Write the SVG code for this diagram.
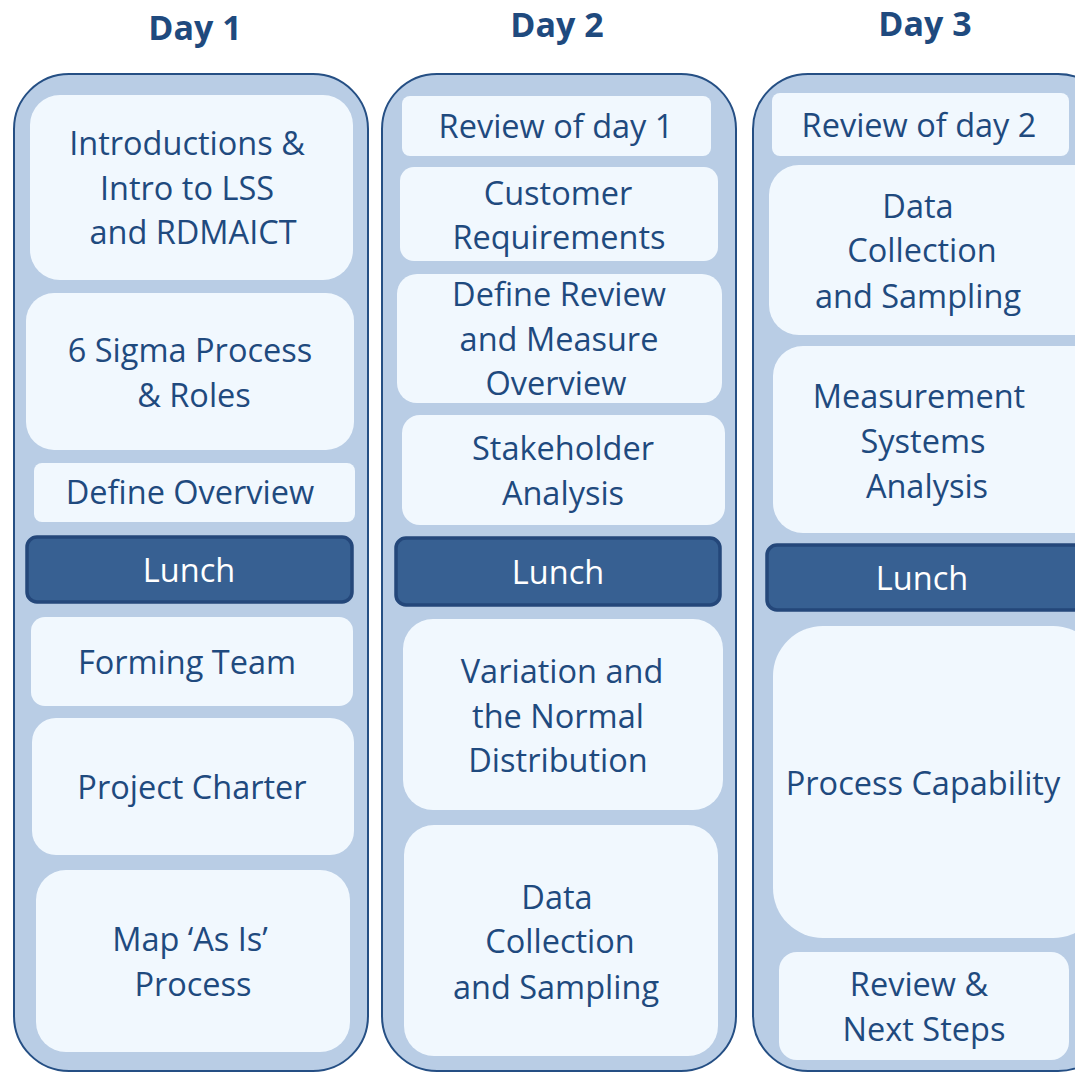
<svg xmlns="http://www.w3.org/2000/svg" width="1075" height="1073" viewBox="0 0 1075 1073">
<style>
.col{fill:#B9CDE5;stroke:#254F84;stroke-width:2}
.box{fill:#F1F8FE}
.lunch{fill:#376092;stroke:#24477A;stroke-width:3.5}
.t{font-family:"Open Sans","Noto Sans",sans-serif;font-size:32.5px;fill:#1F4A7E;text-anchor:middle}
.lt{font-family:"Open Sans","Noto Sans",sans-serif;font-size:32.5px;fill:#FFFFFF;text-anchor:middle}
.day{font-family:"Open Sans","Noto Sans",sans-serif;font-size:34px;font-weight:bold;fill:#1F4A7E;text-anchor:middle}
</style>
<rect width="1075" height="1073" fill="#FFFFFF"/>
<g id="headers">
<text class="day" x="195" y="40">Day 1</text>
<text class="day" x="557" y="37">Day 2</text>
<text class="day" x="925" y="36">Day 3</text>
</g>
<g id="columns">
<rect id="col-day1" class="col" x="14" y="74" width="354" height="997" rx="55" ry="55"/>
<rect id="col-day2" class="col" x="382" y="74" width="354" height="997" rx="55" ry="55"/>
<rect id="col-day3" class="col" x="753" y="74" width="360" height="997" rx="55" ry="55"/>
</g>
<g id="connectors"></g>
<g id="n-intro"><rect class="box" x="30" y="95" width="323" height="185" rx="30"/>
<text class="t" x="187" y="155">Introductions &amp;</text><text class="t" x="187" y="200">Intro to LSS</text><text class="t" x="193" y="244">and RDMAICT</text></g>
<g id="n-sigma"><rect class="box" x="26" y="293" width="328" height="157" rx="28"/>
<text class="t" x="190" y="362">6 Sigma Process</text><text class="t" x="194" y="407">&amp; Roles</text></g>
<g id="n-defineov"><rect class="box" x="34" y="463" width="321" height="59" rx="8"/>
<text class="t" x="190" y="504">Define Overview</text></g>
<g id="n-lunch1"><rect class="lunch" x="27" y="537" width="325" height="65" rx="10"/>
<text class="lt" x="189" y="582">Lunch</text></g>
<g id="n-forming"><rect class="box" x="31" y="617" width="322" height="89" rx="14"/>
<text class="t" x="187" y="674">Forming Team</text></g>
<g id="n-charter"><rect class="box" x="32" y="718" width="322" height="137" rx="24"/>
<text class="t" x="192" y="799">Project Charter</text></g>
<g id="n-map"><rect class="box" x="36" y="870" width="314" height="182" rx="30"/>
<text class="t" x="190" y="951">Map ‘As Is’</text><text class="t" x="193" y="996">Process</text></g>

<g id="n-review1"><rect class="box" x="402" y="96" width="309" height="60" rx="8"/>
<text class="t" x="556" y="138">Review of day 1</text></g>
<g id="n-customer"><rect class="box" x="400" y="167" width="318" height="94" rx="14"/>
<text class="t" x="558" y="205">Customer</text><text class="t" x="559" y="249">Requirements</text></g>
<g id="n-definereview"><rect class="box" x="397" y="274" width="325" height="129" rx="20"/>
<text class="t" x="559" y="306">Define Review</text><text class="t" x="559" y="351">and Measure</text><text class="t" x="556" y="395">Overview</text></g>
<g id="n-stakeholder"><rect class="box" x="402" y="415" width="323" height="110" rx="18"/>
<text class="t" x="563" y="460">Stakeholder</text><text class="t" x="563" y="505">Analysis</text></g>
<g id="n-lunch2"><rect class="lunch" x="396" y="538" width="324" height="67" rx="10"/>
<text class="lt" x="558" y="584">Lunch</text></g>
<g id="n-variation"><rect class="box" x="403" y="619" width="320" height="191" rx="30"/>
<text class="t" x="562" y="683">Variation and</text><text class="t" x="558" y="728">the Normal</text><text class="t" x="558" y="772">Distribution</text></g>
<g id="n-data2"><rect class="box" x="404" y="825" width="314" height="231" rx="30"/>
<text class="t" x="557" y="909">Data</text><text class="t" x="560" y="953">Collection</text><text class="t" x="556" y="999">and Sampling</text></g>

<g id="n-review2"><rect class="box" x="772" y="93" width="297" height="63" rx="8"/>
<text class="t" x="919" y="137">Review of day 2</text></g>
<g id="n-data3"><rect class="box" x="769" y="165" width="340" height="170" rx="30"/>
<text class="t" x="918" y="218">Data</text><text class="t" x="922" y="262">Collection</text><text class="t" x="918" y="308">and Sampling</text></g>
<g id="n-msa"><rect class="box" x="773" y="346" width="340" height="187" rx="30"/>
<text class="t" x="919" y="408">Measurement</text><text class="t" x="923" y="453">Systems</text><text class="t" x="927" y="498">Analysis</text></g>
<g id="n-lunch3"><rect class="lunch" x="767" y="545" width="340" height="65" rx="10"/>
<text class="lt" x="922" y="590">Lunch</text></g>
<g id="n-capability"><rect class="box" x="773" y="626" width="330" height="312" rx="50"/>
<text class="t" x="923" y="795">Process Capability</text></g>
<g id="n-nextsteps"><rect class="box" x="779" y="952" width="290" height="108" rx="18"/>
<text class="t" x="919" y="996">Review &amp;</text><text class="t" x="924" y="1041">Next Steps</text></g>
</svg>
